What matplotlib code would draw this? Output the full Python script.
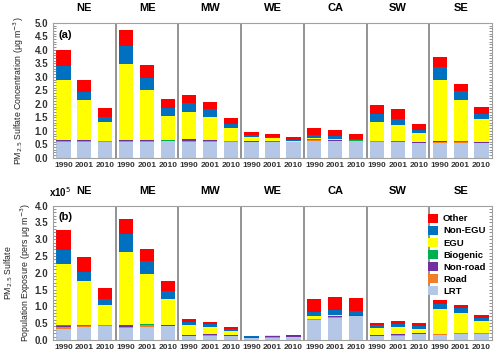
import numpy as np
import matplotlib
matplotlib.use('Agg')
import matplotlib.pyplot as plt
from matplotlib.ticker import MultipleLocator

plt.rcParams['font.family'] = ['Liberation Sans', 'DejaVu Sans']

regions = ['NE', 'ME', 'MW', 'WE', 'CA', 'SW', 'SE']
years = ['1990', '2001', '2010']
sources = ['LRT', 'Road', 'Non-road', 'Biogenic', 'EGU', 'Non-EGU', 'Other']
colors = ['#b4c7e7', '#f07f2a', '#7030a0', '#00b050', '#ffff00', '#0070c0', '#ff0000']

# (a) sulfate concentration, ug m-3 ; 21 bars = 7 regions x 3 years
conc_lrt = [0.57, 0.60, 0.60, 0.57, 0.60, 0.62, 0.60, 0.60, 0.60, 0.57, 0.57, 0.57,
            0.63, 0.62, 0.62, 0.57, 0.57, 0.55, 0.55, 0.55, 0.55]
conc_road = [0.04, 0.03, 0.01, 0.05, 0.03, 0.01, 0.04, 0.03, 0.01, 0.03, 0.02, 0.01,
             0.03, 0.02, 0.01, 0.04, 0.02, 0.01, 0.05, 0.03, 0.01]
conc_nonroad = [0.04, 0.03, 0.01, 0.04, 0.03, 0.01, 0.04, 0.03, 0.01, 0.02, 0.01, 0.01,
                0.01, 0.01, 0.01, 0.01, 0.01, 0.01, 0.02, 0.02, 0.01]
conc_bio = [0.01] * 21
conc_egu = [2.24, 1.47, 0.68, 2.82, 1.84, 0.91, 1.01, 0.84, 0.48, 0.14, 0.13, 0.03,
            0.07, 0.04, 0.02, 0.70, 0.60, 0.35, 2.25, 1.53, 0.84]
conc_nonegu = [0.51, 0.31, 0.21, 0.65, 0.45, 0.29, 0.34, 0.28, 0.14, 0.07, 0.04, 0.04,
               0.11, 0.11, 0.04, 0.30, 0.23, 0.11, 0.49, 0.34, 0.22]
conc_other = [0.58, 0.43, 0.31, 0.61, 0.46, 0.32, 0.29, 0.28, 0.21, 0.10, 0.11, 0.11,
              0.25, 0.21, 0.18, 0.31, 0.35, 0.23, 0.35, 0.26, 0.24]

# (b) population exposure, x10^5 pers ug m-3
exp_lrt = [0.33, 0.37, 0.42, 0.35, 0.38, 0.40, 0.12, 0.12, 0.12, 0.05, 0.07, 0.08,
           0.58, 0.66, 0.70, 0.12, 0.13, 0.17, 0.14, 0.16, 0.18]
exp_road = [0.05, 0.03, 0.01, 0.04, 0.05, 0.02, 0.01, 0.02, 0.01, 0.02, 0.03, 0.02,
            0.04, 0.03, 0.02, 0.01, 0.02, 0.01, 0.03, 0.03, 0.02]
exp_nonroad = [0.04, 0.02, 0.01, 0.04, 0.02, 0.01, 0.01, 0.02, 0.01, 0.01, 0.01, 0.01,
               0.01, 0.01, 0.01, 0.01, 0.01, 0.01, 0.01, 0.01, 0.01]
exp_bio = [0.01, 0.01, 0.01, 0.01, 0.01, 0.01, 0.005, 0.005, 0.005, 0.01, 0.005, 0.005,
           0.005, 0.005, 0.005, 0.005, 0.005, 0.005, 0.005, 0.005, 0.005]
exp_egu = [1.84, 1.33, 0.60, 2.19, 1.51, 0.79, 0.30, 0.22, 0.12, 0.01, 0.02, 0.01,
           0.07, 0.04, 0.02, 0.21, 0.22, 0.14, 0.72, 0.60, 0.34]
exp_nonegu = [0.42, 0.26, 0.17, 0.52, 0.38, 0.24, 0.10, 0.09, 0.06, 0.01, 0.01, 0.005,
              0.13, 0.15, 0.11, 0.09, 0.09, 0.07, 0.15, 0.13, 0.10]
exp_other = [0.59, 0.45, 0.33, 0.45, 0.36, 0.29, 0.09, 0.07, 0.06, 0.01, 0.01, 0.01,
             0.37, 0.38, 0.38, 0.07, 0.09, 0.09, 0.12, 0.11, 0.10]

conc = [conc_lrt, conc_road, conc_nonroad, conc_bio, conc_egu, conc_nonegu, conc_other]
expo = [exp_lrt, exp_road, exp_nonroad, exp_bio, exp_egu, exp_nonegu, exp_other]

fig = plt.figure(figsize=(5, 3.57), dpi=100)
ax1 = fig.add_axes([0.106, 0.558, 0.878, 0.378])
ax2 = fig.add_axes([0.106, 0.048, 0.878, 0.376])

x = np.arange(21)


def draw(ax, data, ymax, label, panel, label_x):
    bottom = np.zeros(21)
    handles = []
    for vals, c, name in zip(data, colors, sources):
        h = ax.bar(x, vals, 0.68, bottom=bottom, color=c, label=name, linewidth=0)
        bottom += np.array(vals)
        handles.append(h)
    ax.set_xlim(-0.5, 20.5)
    ax.set_ylim(0, ymax)
    ax.yaxis.set_major_locator(MultipleLocator(0.5))
    ax.yaxis.set_minor_locator(MultipleLocator(0.1))
    ax.yaxis.set_major_formatter(plt.FormatStrFormatter('%.1f'))
    ax.tick_params(axis='y', which='both', right=True, direction='in', labelsize=7,
                   length=2, width=0.6, colors='#808080', labelcolor='#333333')
    for t in ax.get_yticklabels():
        t.set_fontweight('bold')
    ax.set_xticks(x)
    ax.set_xticklabels(years * 7, fontsize=6, fontweight='bold', color='#333333')
    ax.tick_params(axis='x', length=0, pad=3)
    for s in ax.spines.values():
        s.set_color('#a0a0a0')
        s.set_linewidth(0.8)
    for k in range(1, 7):
        ax.axvline(3 * k - 0.5, color='#808080', lw=1.2)
    for k, r in enumerate(regions):
        ax.text(3 * k + 1, 1.07, r, transform=ax.get_xaxis_transform(), ha='center',
                va='bottom', fontsize=8, fontweight='bold')
    ax.text(0.012, 0.95, panel, transform=ax.transAxes, ha='left', va='top',
            fontsize=8, fontweight='bold')
    ax.set_ylabel(label, fontsize=6.3, linespacing=1.35, color='#222222')
    ax.yaxis.set_label_coords(label_x, 0.5)
    return handles


draw(ax1, conc, 5.0, 'PM$_{2.5}$ Sulfate Concentration (\u03bcg m$^{-3}$)', '(a)', -0.062)
handles = draw(ax2, expo, 4.0,
               'PM$_{2.5}$ Sulfate\nPopulation Exposure (pers \u03bcg m$^{-3}$)', '(b)', -0.045)
ax2.text(-0.01, 1.05, 'x10$^5$', transform=ax2.transAxes, ha='left', va='bottom',
         fontsize=7, fontweight='bold')

leg = ax2.legend(handles[::-1], sources[::-1], loc='upper right', bbox_to_anchor=(1.0, 0.99),
                 frameon=False, fontsize=6.8, handlelength=1.1, handleheight=1.1,
                 labelspacing=0.25, handletextpad=0.5, borderaxespad=0.3)
for t in leg.get_texts():
    t.set_fontweight('bold')

fig.savefig('out.png', dpi=100)
